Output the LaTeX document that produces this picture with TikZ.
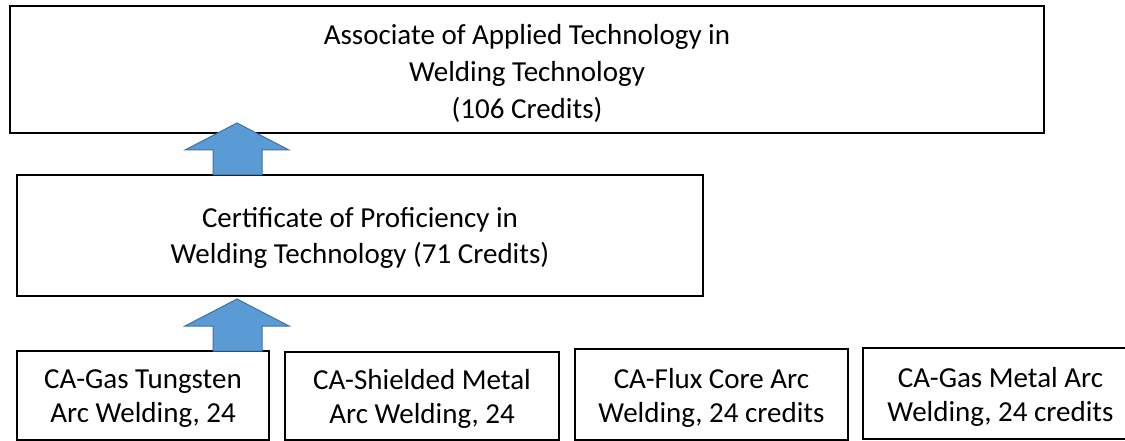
\documentclass[tikz,border=0pt]{standalone}
\usepackage{fontspec}
\setmainfont{Carlito}
\usetikzlibrary{calc}
\definecolor{arrowfill}{HTML}{5B9BD5}
\definecolor{arrowline}{HTML}{41719C}
\tikzset{
  box/.style={draw=black, line width=2pt, rectangle, inner sep=0pt, outer sep=0pt, fill=white},
  boxtext/.style={align=center, inner sep=0pt, outer sep=0pt, font=\fontsize{29}{36.7}\selectfont},
  smalltext/.style={align=center, inner sep=0pt, outer sep=0pt, font=\fontsize{29}{34}\selectfont},
  blockarrow/.style={fill=arrowfill, draw=arrowline, line width=1pt, line join=miter}
}
\begin{document}
\begin{tikzpicture}[x=1pt,y=-1pt]
\useasboundingbox (0,0) rectangle (1125,441);
\clip (0,0) rectangle (1125,441);
\fill[white] (0,0) rectangle (1125,441);
% boxes
\node[box, minimum width=1034pt, minimum height=127pt] (assoc) at (527,69.5) {};
\node[box, minimum width=686pt, minimum height=121pt] (cert) at (360,235.5) {};
\node[box, minimum width=252pt, minimum height=89pt] (ca1) at (143,395.5) {};
\node[box, minimum width=274pt, minimum height=88pt] (ca2) at (422,396) {};
\node[box, minimum width=273pt, minimum height=91pt] (ca3) at (711.5,394.5) {};
\node[box, minimum width=275pt, minimum height=91pt] (ca4) at (1000.5,393.5) {};
% texts
\node[boxtext] (assoct) at ($(assoc.center)+(0,4)$) {Associate of Applied Technology in\\Welding Technology\\(106 Credits)};
\node[boxtext] (certt) at ($(cert.center)+(0,2.5)$) {Certificate of Proficiency in\\Welding Technology (71 Credits)};
\node[smalltext] (ca1t) at ($(ca1.center)+(0,3.5)$) {CA-Gas Tungsten\\Arc Welding, 24};
\node[smalltext] (ca2t) at ($(ca2.center)+(0,3)$) {CA-Shielded Metal\\Arc Welding, 24};
\node[smalltext] (ca3t) at ($(ca3.center)+(0,3.5)$) {CA-Flux Core Arc\\Welding, 24 credits};
\node[smalltext] (ca4t) at ($(ca4.center)+(0,3)$) {CA-Gas Metal Arc\\Welding, 24 credits};
% arrow anchor points
\coordinate (tip1) at ($(assoc.south west)+(227,-10)$);
\coordinate (tip2) at ($(cert.south west)+(220,3)$);
\draw[blockarrow] let \p1=(tip1), \p2=(cert.north) in
  (\x1,\y1) -- (\x1+52pt,\y1-27pt) -- (\x1+25pt,\y1-27pt) -- (\x1+25pt,\y2)
  -- (\x1-24pt,\y2) -- (\x1-24pt,\y1-27pt) -- (\x1-52pt,\y1-27pt) -- cycle;
\draw[blockarrow] let \p1=(tip2), \p2=(ca1.north) in
  (\x1,\y1) -- (\x1+52pt,\y1-27pt) -- (\x1+25pt,\y1-27pt) -- (\x1+25pt,\y2)
  -- (\x1-24pt,\y2) -- (\x1-24pt,\y1-27pt) -- (\x1-52pt,\y1-27pt) -- cycle;
\end{tikzpicture}
\end{document}
